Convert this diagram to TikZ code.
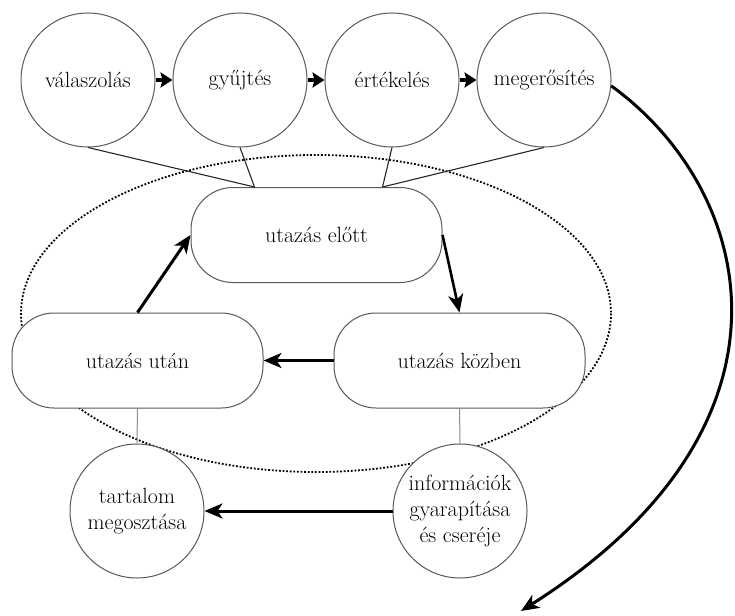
\documentclass[tikz,border=0pt]{standalone}
\usepackage{fontspec}
\usetikzlibrary{arrows.meta,calc}
\begin{document}
\begin{tikzpicture}[x=1pt,y=-1pt,
  every node/.style={font=\rmfamily\fontsize{22}{26}\selectfont, align=center},
  topic/.style={circle, draw=black!65, line width=1pt, fill=white,
    minimum size=134pt, inner sep=0pt},
  phase/.style={rectangle, rounded corners=42pt, draw=black!65, line width=1pt,
    fill=white, minimum width=251pt, minimum height=95pt},
  link/.style={draw=black!85, line width=1.1pt},
  stem/.style={draw=black!45, line width=1pt},
  flow/.style={line width=3pt, -{Stealth[length=18pt,width=15pt,inset=5pt]}},
  hop/.style={line width=3.4pt, -{Stealth[length=12pt,width=15pt,inset=2pt]}},
  cycle ring/.style={line width=1.8pt, dash pattern=on 1.8pt off 1.8pt},
]
\useasboundingbox (0,0) rectangle (735,615);

% dotted boundary of the travel cycle
\draw[cycle ring] (316,313.5) ellipse [x radius=295, y radius=158.5];

% activities
\node[topic] (valasz) at (88,80)  {válaszolás};
\node[topic] (gyujt)  at (240,80) {gyűjtés};
\node[topic] (ertek)  at (392,80) {értékelés};
\node[topic] (meger)  at (544,80) {megerősítés};

% travel phases
\node[phase] (elott)  at (316.5,235) {utazás előtt};
\node[phase] (utan)   at (137.5,360.5) {utazás után};
\node[phase] (kozben) at (459.5,360.5) {utazás közben};

% outcomes
\node[topic] (tartalom) at (137,511) {tartalom\\megosztása};
\node[topic] (info)     at (460,511) {információk\\gyarapítása\\és cseréje};

% activity chain
\draw[hop] (valasz) -- (gyujt);
\draw[hop] (gyujt) -- (ertek);
\draw[hop] (ertek) -- (meger);

% activities attached to the pre-trip phase
\coordinate (elottL) at ([xshift=64pt]elott.north west);
\coordinate (elottR) at ([xshift=-60pt]elott.north east);
\draw[link] (valasz.south) -- (elottL);
\draw[link] (gyujt.south) -- (elottL);
\draw[link] (ertek.south) -- (elottR);
\draw[link] (meger.south) -- (elottR);

% the cycle
\draw[flow] (utan.north) -- (elott.west);
\draw[flow, line width=2.6pt] (elott.east) -- (kozben.north);
\draw[flow] (kozben.west) -- (utan.east);

% outcomes attached to phases
\draw[stem] (utan.south) -- (tartalom.north);
\draw[stem] (kozben.south) -- (info.north);
\draw[flow] (info.west) -- (tartalom.east);

% long return arrow
\coordinate (tail) at (521,611);
\draw[flow] (meger.-5) .. controls (755,190) and (815,425) .. (tail);
\end{tikzpicture}
\end{document}
